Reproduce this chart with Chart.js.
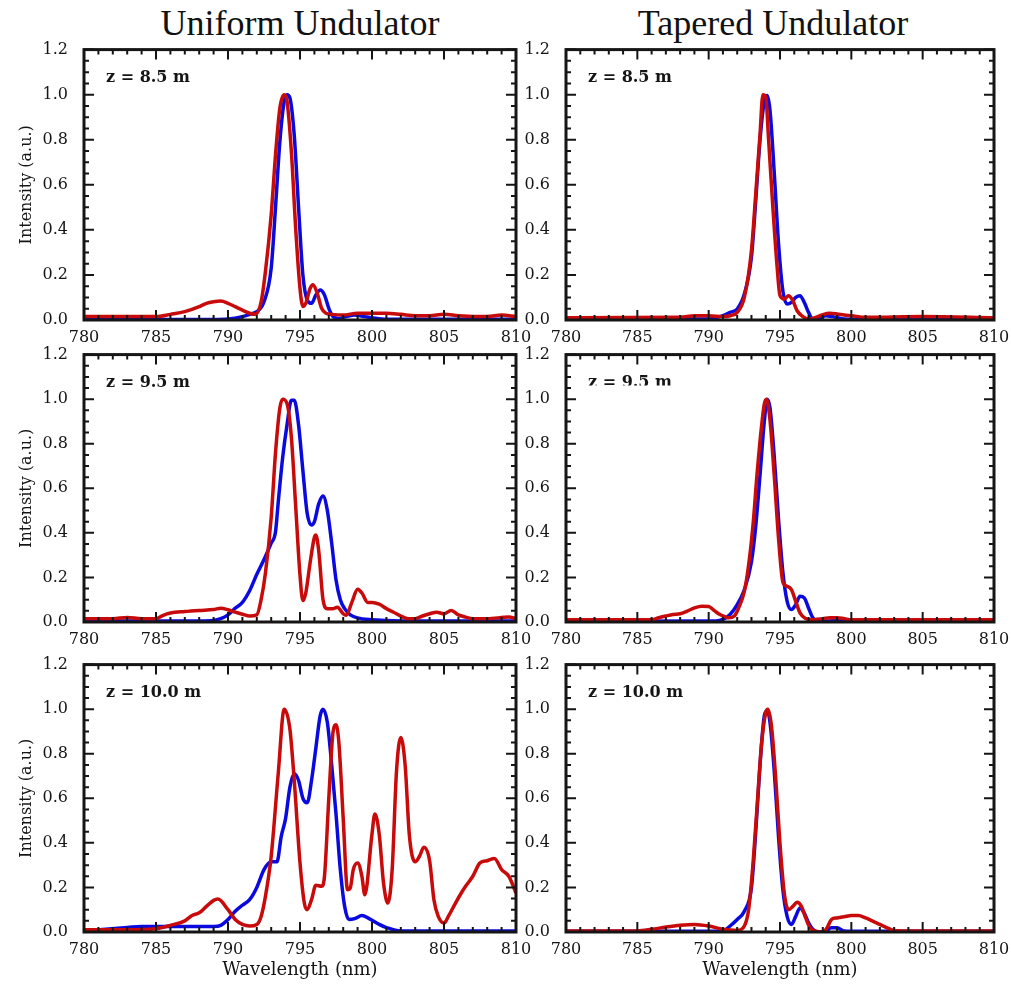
<!DOCTYPE html>
<html>
<head>
<meta charset="utf-8">
<script src="https://cdn.jsdelivr.net/npm/chart.js@4.4.1/dist/chart.umd.min.js"></script>
<style>
  html, body { margin: 0; padding: 0; background: #fff; }
  #page { position: relative; width: 1011px; height: 984px; overflow: hidden; background: #fff; }
  .colTitle { position: absolute; top: 1px; width: 400px; text-align: center; white-space: nowrap;
              font-family: "Liberation Serif", "Times New Roman", serif; font-size: 36px; line-height: 44px; color: #111; }
  canvas { position: absolute; }
</style>
</head>
<body>
<div id="page"></div>
<script>
// ---- text ----
const columnTitles = ['Uniform Undulator', 'Tapered Undulator'];
const distanceLabels = ['z = 8.5 m', 'z = 9.5 m', 'z = 10.0 m'];
const xTickValues = [780, 785, 790, 795, 800, 805, 810];
const yTickValues = [0, 0.2, 0.4, 0.6, 0.8, 1.0, 1.2];

// ---- spectra: wavelength (nm) and normalised intensity ----
// uniform undulator, z = 8.5 m
const uni85BlueWl = [780, 785, 789, 790, 791, 791.5, 792, 792.5, 793, 793.3, 793.6, 793.9, 794.1, 794.3, 794.6, 794.9, 795.2, 795.5, 795.8, 796.1, 796.4, 796.7, 797, 797.3, 797.7, 798.2, 798.8, 799.5, 800, 801, 810];
const uni85Blue   = [0.002, 0.002, 0.002, 0.004, 0.015, 0.025, 0.037, 0.081, 0.23, 0.5, 0.79, 0.97, 1.0, 0.985, 0.82, 0.5, 0.2, 0.089, 0.074, 0.111, 0.133, 0.111, 0.052, 0.015, 0.007, 0.015, 0.022, 0.015, 0.01, 0.003, 0.003];
const uni85RedWl  = [780, 785, 786, 787, 788, 788.5, 789, 789.5, 790, 790.5, 791, 791.5, 791.9, 792.3, 792.6, 793, 793.3, 793.6, 793.9, 794.1, 794.4, 794.7, 795, 795.2, 795.4, 795.7, 795.9, 796.2, 796.5, 796.8, 797.2, 798, 799, 800, 801, 802, 803, 804, 805, 806, 808, 809, 810];
const uni85Red    = [0.015, 0.015, 0.025, 0.037, 0.059, 0.074, 0.081, 0.084, 0.074, 0.059, 0.044, 0.03, 0.025, 0.08, 0.215, 0.467, 0.733, 0.94, 1.0, 0.97, 0.748, 0.407, 0.14, 0.06, 0.074, 0.14, 0.156, 0.118, 0.052, 0.03, 0.025, 0.022, 0.03, 0.03, 0.03, 0.025, 0.019, 0.019, 0.025, 0.019, 0.015, 0.022, 0.015];

// uniform undulator, z = 9.5 m
const uni95BlueWl = [780, 788, 789, 789.5, 790, 790.5, 791, 791.5, 792, 792.5, 793, 793.3, 793.5, 793.8, 794.1, 794.4, 794.6, 794.9, 795.2, 795.5, 795.8, 796, 796.3, 796.6, 796.9, 797.2, 797.5, 797.8, 798.1, 798.5, 799, 800, 802, 810];
const uni95Blue   = [0.005, 0.005, 0.007, 0.015, 0.032, 0.062, 0.088, 0.14, 0.214, 0.28, 0.354, 0.405, 0.546, 0.74, 0.885, 0.995, 0.995, 0.885, 0.68, 0.487, 0.435, 0.45, 0.53, 0.565, 0.5, 0.354, 0.19, 0.1, 0.06, 0.032, 0.018, 0.01, 0.005, 0.005];
const uni95RedWl  = [780, 782, 783, 784, 785, 785.5, 786, 787, 788, 789, 789.5, 790, 790.5, 791, 791.5, 792, 792.3, 792.6, 793, 793.3, 793.6, 793.8, 794.1, 794.4, 794.7, 795, 795.2, 795.4, 795.7, 796, 796.1, 796.3, 796.6, 796.9, 797.3, 797.6, 798, 798.2, 798.6, 799, 799.3, 799.7, 800, 800.5, 801, 801.5, 802, 802.5, 803, 803.5, 804, 804.5, 805, 805.5, 806, 806.5, 807, 808, 809.5, 810];
const uni95Red    = [0.015, 0.015, 0.02, 0.015, 0.015, 0.03, 0.04, 0.047, 0.052, 0.056, 0.062, 0.055, 0.044, 0.035, 0.027, 0.032, 0.1, 0.22, 0.47, 0.76, 0.96, 1.0, 0.98, 0.83, 0.52, 0.21, 0.096, 0.13, 0.265, 0.38, 0.39, 0.32, 0.1, 0.06, 0.06, 0.066, 0.037, 0.03, 0.088, 0.147, 0.13, 0.088, 0.088, 0.08, 0.06, 0.044, 0.027, 0.015, 0.015, 0.027, 0.037, 0.044, 0.037, 0.052, 0.032, 0.022, 0.015, 0.015, 0.022, 0.015];

// uniform undulator, z = 10.0 m
const uni100BlueWl = [780, 783, 784, 789, 789.5, 790, 790.5, 791, 791.5, 792, 792.5, 793, 793.4, 793.7, 794, 794.3, 794.6, 794.9, 795.2, 795.5, 795.8, 796.1, 796.4, 796.6, 796.9, 797.2, 797.5, 797.8, 798.1, 798.4, 798.8, 799.3, 799.8, 800.5, 801, 802, 810];
const uni100Blue   = [0.005, 0.02, 0.025, 0.025, 0.03, 0.056, 0.093, 0.12, 0.145, 0.2, 0.28, 0.315, 0.315, 0.43, 0.51, 0.65, 0.71, 0.68, 0.6, 0.58, 0.68, 0.825, 0.97, 1.0, 0.94, 0.75, 0.53, 0.28, 0.115, 0.056, 0.06, 0.074, 0.06, 0.034, 0.02, 0.005, 0.005];
const uni100RedWl  = [780, 783, 785, 786, 787, 787.5, 788, 788.5, 789, 789.3, 790, 790.5, 791, 791.5, 792, 792.3, 792.6, 793, 793.5, 793.9, 794.3, 794.6, 795, 795.3, 795.5, 795.8, 796.1, 796.5, 796.7, 797, 797.3, 797.5, 797.7, 798, 798.3, 798.5, 798.7, 799, 799.3, 799.5, 800, 800.2, 800.5, 800.8, 801.1, 801.4, 801.7, 802, 802.3, 802.6, 803, 803.3, 803.6, 804, 804.3, 804.6, 805, 805.3, 805.8, 806.2, 806.5, 807, 807.5, 808, 808.5, 809, 809.5, 810];
const uni100Red    = [0.01, 0.01, 0.015, 0.03, 0.05, 0.074, 0.086, 0.115, 0.142, 0.148, 0.1, 0.056, 0.034, 0.027, 0.034, 0.07, 0.16, 0.34, 0.72, 1.0, 0.91, 0.68, 0.31, 0.13, 0.1, 0.145, 0.21, 0.205, 0.25, 0.6, 0.9, 0.93, 0.85, 0.51, 0.19, 0.2, 0.28, 0.31, 0.25, 0.167, 0.44, 0.53, 0.44, 0.22, 0.13, 0.28, 0.72, 0.873, 0.75, 0.43, 0.315, 0.34, 0.38, 0.32, 0.145, 0.07, 0.04, 0.07, 0.13, 0.175, 0.205, 0.25, 0.31, 0.32, 0.33, 0.28, 0.25, 0.175];

// tapered undulator, z = 8.5 m
const tap85BlueWl = [780, 790, 791, 791.5, 792, 792.5, 793, 793.3, 793.6, 793.9, 794.1, 794.3, 794.6, 794.9, 795.2, 795.5, 795.8, 796.1, 796.4, 796.7, 797, 797.3, 797.7, 798.2, 798.7, 799.5, 800, 810];
const tap85Blue   = [0.003, 0.004, 0.019, 0.034, 0.049, 0.115, 0.28, 0.53, 0.8, 0.97, 0.996, 0.93, 0.65, 0.337, 0.13, 0.071, 0.078, 0.1, 0.108, 0.078, 0.034, 0.004, 0.004, 0.019, 0.015, 0.004, 0.003, 0.003];
const tap85RedWl  = [780, 788, 789, 790, 791, 791.5, 792, 792.5, 793, 793.3, 793.6, 793.8, 794, 794.2, 794.5, 794.8, 795, 795.3, 795.6, 795.9, 796.2, 796.6, 797, 797.5, 798, 798.5, 799, 799.5, 800, 801, 805, 810];
const tap85Red    = [0.01, 0.012, 0.019, 0.019, 0.015, 0.019, 0.034, 0.1, 0.31, 0.56, 0.825, 1.0, 0.99, 0.8, 0.5, 0.234, 0.108, 0.093, 0.108, 0.086, 0.041, 0.015, 0.004, 0.012, 0.024, 0.03, 0.027, 0.022, 0.019, 0.012, 0.015, 0.01];

// tapered undulator, z = 9.5 m
const tap95BlueWl = [780, 790.5, 791, 791.5, 792, 792.5, 793, 793.3, 793.6, 793.9, 794.1, 794.3, 794.6, 794.9, 795.2, 795.5, 795.8, 796.1, 796.4, 796.7, 797, 797.3, 797.6, 798.5, 799, 800, 810];
const tap95Blue   = [0.003, 0.005, 0.012, 0.034, 0.078, 0.145, 0.27, 0.43, 0.66, 0.9, 1.0, 0.96, 0.74, 0.46, 0.225, 0.093, 0.056, 0.078, 0.115, 0.108, 0.063, 0.019, 0.002, 0.005, 0.007, 0.003, 0.003];
const tap95RedWl  = [780, 786, 786.5, 787, 787.5, 788, 788.5, 789, 789.5, 790, 790.3, 790.7, 791, 791.4, 791.8, 792.1, 792.5, 792.8, 793.1, 793.4, 793.7, 793.9, 794.05, 794.3, 794.6, 794.9, 795.2, 795.5, 795.8, 796.1, 796.4, 796.8, 797.2, 798, 798.5, 799, 799.5, 800, 810];
const tap95Red    = [0.01, 0.01, 0.019, 0.027, 0.034, 0.037, 0.049, 0.063, 0.071, 0.07, 0.056, 0.037, 0.027, 0.019, 0.027, 0.063, 0.137, 0.255, 0.43, 0.67, 0.875, 0.978, 1.0, 0.905, 0.653, 0.373, 0.18, 0.16, 0.145, 0.093, 0.041, 0.016, 0.01, 0.015, 0.019, 0.019, 0.015, 0.01, 0.01];

// tapered undulator, z = 10.0 m
const tap100BlueWl = [780, 790, 791, 791.5, 792, 792.5, 793, 793.3, 793.6, 793.9, 794.1, 794.3, 794.6, 794.9, 795.2, 795.5, 795.8, 796.1, 796.4, 796.7, 797, 797.3, 797.7, 798.2, 798.6, 799, 799.5, 800, 810];
const tap100Blue   = [0.003, 0.003, 0.004, 0.027, 0.056, 0.093, 0.2, 0.45, 0.75, 0.97, 0.993, 0.94, 0.72, 0.425, 0.19, 0.07, 0.034, 0.07, 0.108, 0.085, 0.041, 0.012, 0.0, 0.004, 0.019, 0.019, 0.004, 0.003, 0.003];
const tap100RedWl  = [780, 785, 786, 787, 788, 789, 790, 791, 792, 792.5, 792.8, 793.1, 793.4, 793.7, 794, 794.15, 794.4, 794.7, 795, 795.3, 795.6, 795.9, 796.2, 796.5, 796.8, 797.1, 797.5, 798, 798.3, 798.6, 799, 799.5, 800, 800.5, 801, 801.5, 802, 802.5, 803, 804, 810];
const tap100Red    = [0.005, 0.005, 0.012, 0.022, 0.03, 0.034, 0.027, 0.012, 0.007, 0.027, 0.1, 0.3, 0.57, 0.84, 0.985, 1.0, 0.926, 0.69, 0.395, 0.174, 0.1, 0.115, 0.133, 0.115, 0.063, 0.019, 0.004, 0.0, 0.019, 0.056, 0.063, 0.068, 0.074, 0.074, 0.063, 0.049, 0.034, 0.019, 0.007, 0.005, 0.005];

// ---- page layout (pixels) ----
const COLOURS = { red: '#c80a0a', blue: '#0a0ae0' };
const INK = '#151515';
const SERIF = '"DejaVu Serif", "Liberation Serif", serif';
const layoutCols = [
  { plotL: 84,  plotR: 516, canvasL: 0,   canvasR: 540, titleLeft: 100 },
  { plotL: 566, plotR: 994, canvasL: 522, canvasR: 1011, titleLeft: 573 }
];
const layoutRows = [
  { plotT: 48,  plotB: 320 },
  { plotT: 353, plotB: 622 },
  { plotT: 663, plotB: 932 }
];
const PAD_TOP = 16;

const page = document.getElementById('page');
columnTitles.forEach((t, i) => {
  const d = document.createElement('div');
  d.className = 'colTitle';
  d.style.left = layoutCols[i].titleLeft + 'px';
  d.textContent = t;
  page.appendChild(d);
});

// Frame plus inward major/minor ticks on all four sides
const frameTicks = {
  id: 'frameTicks',
  afterDatasetsDraw(chart) {
    const { ctx, chartArea: a, scales: { x, y } } = chart;
    ctx.save();
    ctx.strokeStyle = INK;
    ctx.lineWidth = 2;
    ctx.beginPath();
    for (let v = x.min; v <= x.max + 1e-9; v += 1) {
      const px = x.getPixelForValue(v);
      const len = Math.round(v) % 5 === 0 ? 10 : 5;
      ctx.moveTo(px, a.bottom); ctx.lineTo(px, a.bottom - len);
      ctx.moveTo(px, a.top);    ctx.lineTo(px, a.top + len);
    }
    for (let i = 0; i <= 24; i++) {
      const py = y.getPixelForValue(i * 0.05);
      const len = i % 4 === 0 ? 10 : 5;
      ctx.moveTo(a.left, py);  ctx.lineTo(a.left + len, py);
      ctx.moveTo(a.right, py); ctx.lineTo(a.right - len, py);
    }
    ctx.stroke();
    ctx.lineWidth = 3;
    ctx.strokeRect(a.left, a.top, a.right - a.left, a.bottom - a.top);
    ctx.restore();
  }
};

// "z = ..." label in the top-left corner of each panel
const panelLabel = {
  id: 'panelLabel',
  afterDraw(chart, args, opts) {
    const { ctx, chartArea: a } = chart;
    ctx.save();
    if (opts.clipBelow) {
      ctx.beginPath();
      ctx.rect(a.left, a.top, a.right - a.left, opts.clipBelow);
      ctx.clip();
    }
    ctx.font = 'bold 16px ' + SERIF;
    ctx.fillStyle = INK;
    ctx.textBaseline = 'alphabetic';
    ctx.fillText(opts.text, a.left + 22, a.top + 32);
    ctx.restore();
  }
};

function makePanel(col, row, label, series, clipBelow) {
  const c = layoutCols[col], r = layoutRows[row];
  const isBottom = row === 2, isLeft = col === 0;
  const xH = isBottom ? 52 : 30;
  const w = c.canvasR - c.canvasL;
  const h = PAD_TOP + (r.plotB - r.plotT) + xH;
  const canvas = document.createElement('canvas');
  canvas.width = w; canvas.height = h;
  canvas.style.left = c.canvasL + 'px';
  canvas.style.top = (r.plotT - PAD_TOP) + 'px';
  canvas.style.width = w + 'px'; canvas.style.height = h + 'px';
  page.appendChild(canvas);

  const tickFont = { family: SERIF, size: 16 };
  new Chart(canvas, {
    type: 'line',
    data: {
      datasets: series.map(s => ({
        data: s.wl.map((v, i) => ({ x: v, y: s.val[i] })),
        borderColor: COLOURS[s.colour],
        borderWidth: 3.5,
        pointRadius: 0,
        cubicInterpolationMode: 'monotone',
        fill: false
      }))
    },
    options: {
      responsive: false,
      animation: false,
      devicePixelRatio: 1,
      layout: { padding: { top: PAD_TOP, right: c.canvasR - c.plotR, left: 0, bottom: 0 } },
      plugins: {
        legend: { display: false },
        tooltip: { enabled: false },
        panelLabel: { text: label, clipBelow: clipBelow }
      },
      scales: {
        x: {
          type: 'linear', min: 780, max: 810,
          afterBuildTicks: s => { s.ticks = xTickValues.map(v => ({ value: v })); },
          afterFit: s => { s.height = xH; },
          grid: { display: false },
          border: { display: false },
          ticks: { font: tickFont, color: INK, padding: 0, maxRotation: 0, autoSkip: false, callback: v => String(v) },
          title: { display: isBottom, text: 'Wavelength (nm)', color: INK,
                   font: { family: SERIF, size: 18 }, padding: { top: 0, bottom: 3 } }
        },
        y: {
          type: 'linear', min: 0, max: 1.2,
          afterBuildTicks: s => { s.ticks = yTickValues.map(v => ({ value: v })); },
          afterFit: s => { s.width = c.plotL - c.canvasL; },
          grid: { display: false },
          border: { display: false },
          ticks: { font: tickFont, color: INK, padding: 8, callback: v => Number(v).toFixed(1) },
          title: { display: isLeft, text: 'Intensity (a.u.)', color: INK,
                   font: { family: SERIF, size: 16 }, padding: { top: 17, bottom: 0 } }
        }
      }
    },
    plugins: [frameTicks, panelLabel]
  });
}

// red drawn above blue: first dataset is painted last
makePanel(0, 0, distanceLabels[0], [
  { wl: uni85RedWl, val: uni85Red, colour: 'red' },
  { wl: uni85BlueWl, val: uni85Blue, colour: 'blue' }]);
makePanel(0, 1, distanceLabels[1], [
  { wl: uni95RedWl, val: uni95Red, colour: 'red' },
  { wl: uni95BlueWl, val: uni95Blue, colour: 'blue' }]);
makePanel(0, 2, distanceLabels[2], [
  { wl: uni100RedWl, val: uni100Red, colour: 'red' },
  { wl: uni100BlueWl, val: uni100Blue, colour: 'blue' }]);
makePanel(1, 0, distanceLabels[0], [
  { wl: tap85RedWl, val: tap85Red, colour: 'red' },
  { wl: tap85BlueWl, val: tap85Blue, colour: 'blue' }]);
makePanel(1, 1, distanceLabels[1], [
  { wl: tap95RedWl, val: tap95Red, colour: 'red' },
  { wl: tap95BlueWl, val: tap95Blue, colour: 'blue' }], 31);
makePanel(1, 2, distanceLabels[2], [
  { wl: tap100RedWl, val: tap100Red, colour: 'red' },
  { wl: tap100BlueWl, val: tap100Blue, colour: 'blue' }]);
</script>
</body>
</html>
